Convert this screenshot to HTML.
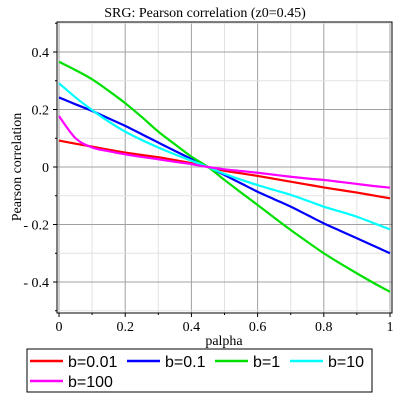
<!DOCTYPE html>
<html><head><meta charset="utf-8"><style>
body{margin:0;background:#fff;width:400px;height:400px;overflow:hidden}
text{font-family:"Liberation Serif",serif}
</style></head><body>
<svg id="chart" width="400" height="400" xmlns="http://www.w3.org/2000/svg">
<text x="205" y="17" text-anchor="middle" font-size="14">SRG: Pearson correlation (z0=0.45)</text>
<text transform="translate(21,167) rotate(-90)" text-anchor="middle" font-size="14">Pearson correlation</text>
<text x="224" y="345" text-anchor="middle" font-size="14">palpha</text>
<g id="grid"></g><g id="ticks"></g><g id="series"></g>
<rect x="57" y="22" width="335" height="291" fill="none" stroke="#000" stroke-width="1"/>
<g>
<rect x="27" y="349" width="345" height="43" fill="#fff" stroke="#000"/>
</g>
<g id="legend"></g>
</svg>
<script>
const xs=[0,0.05,0.1,0.15,0.2,0.25,0.3,0.35,0.4,0.45,0.5,0.55,0.6,0.65,0.7,0.75,0.8,0.85,0.9,0.95,1];
const labels=["b=0.01","b=0.1","b=1","b=10","b=100"];
const colors=["#ff0000","#0000ff","#00e000","#00ffff","#ff00ff"];
const sRed=[0.092,0.081,0.071,0.06,0.05,0.042,0.034,0.024,0.013,0,-0.013,-0.022,-0.031,-0.041,-0.051,-0.061,-0.071,-0.08,-0.089,-0.099,-0.109];
const sBlue=[0.242,0.218,0.195,0.169,0.143,0.114,0.085,0.056,0.028,0,-0.028,-0.057,-0.086,-0.112,-0.138,-0.167,-0.196,-0.222,-0.248,-0.274,-0.30];
const sGreen=[0.366,0.337,0.305,0.265,0.222,0.174,0.123,0.079,0.036,0,-0.045,-0.089,-0.132,-0.176,-0.219,-0.26,-0.30,-0.336,-0.37,-0.403,-0.434];
const sCyan=[0.291,0.242,0.198,0.158,0.123,0.094,0.068,0.044,0.022,0,-0.024,-0.044,-0.063,-0.08,-0.097,-0.117,-0.138,-0.155,-0.173,-0.195,-0.217];
const sMag=[0.177,0.10,0.068,0.055,0.044,0.035,0.027,0.018,0.01,0,-0.008,-0.014,-0.02,-0.027,-0.034,-0.04,-0.045,-0.052,-0.059,-0.066,-0.072];
const xTicks=[0,0.2,0.4,0.6,0.8,1];
const xTickLabels=["0","0.2","0.4","0.6","0.8","1"];
const yTicks=[-0.4,-0.2,0,0.2,0.4];
const yTickLabels=["- 0.4","- 0.2","0","0.2","0.4"];
const series=[sRed,sBlue,sGreen,sCyan,sMag];
const NS="http://www.w3.org/2000/svg";
const X=v=>59+v*331, Y=v=>167-v*287.5;
function mk(tag,attrs,parent){const e=document.createElementNS(NS,tag);for(const k in attrs)e.setAttribute(k,attrs[k]);parent.appendChild(e);return e;}
function smooth(pts){let d='M'+pts[0][0]+','+pts[0][1];
 for(let i=0;i<pts.length-1;i++){const p0=pts[Math.max(0,i-1)],p1=pts[i],p2=pts[i+1],p3=pts[Math.min(pts.length-1,i+2)];
  const c1=[p1[0]+(p2[0]-p0[0])/6,p1[1]+(p2[1]-p0[1])/6],c2=[p2[0]-(p3[0]-p1[0])/6,p2[1]-(p3[1]-p1[1])/6];
  d+=' C'+c1[0]+','+c1[1]+' '+c2[0]+','+c2[1]+' '+p2[0]+','+p2[1];}
 return d;}
const grid=document.getElementById('grid'),ticks=document.getElementById('ticks'),ser=document.getElementById('series'),leg=document.getElementById('legend');
for(let i=0;i<=10;i++){const v=i/10,maj=i%2==0;
 const l=mk('line',{x1:X(v),x2:X(v),y1:22,y2:313,stroke:maj?'#a0a0a0':'#e2e2e2','stroke-width':1},grid);
 
 
 const t=mk('line',{x1:X(v),x2:X(v),y1:313,y2:maj?317:315,stroke:'#000'},ticks);
 
 }
for(let i=-5;i<=5;i++){const v=i/10,maj=i%2==0;
 const l=mk('line',{x1:57,x2:392,y1:Y(v),y2:Y(v),stroke:maj?'#a0a0a0':'#e2e2e2','stroke-width':1},grid);
 
 
 const t=mk('line',{x1:maj?53:55,x2:57,y1:Y(v),y2:Y(v),stroke:'#000'},ticks);
 
 }
xTicks.forEach((v,i)=>{const t=mk('text',{x:X(v),y:331,'text-anchor':'middle','font-size':14},ticks);t.textContent=xTickLabels[i];
 
 });
yTicks.forEach((v,i)=>{const t=mk('text',{x:49,y:Y(v)+5,'text-anchor':'end','font-size':14},ticks);t.textContent=yTickLabels[i];
 
 });
series.forEach((s,k)=>{const p=mk('path',{d:smooth(s.map((v,i)=>[X(xs[i]),Y(v)])),fill:'none',stroke:colors[k],'stroke-width':2.2},ser);
 
 });
const lp=[[30,361],[127,361],[215,361],[290,361],[30,381]];
labels.forEach((lab,k)=>{const g=mk('g',{},leg);
 
 
 mk('line',{x1:lp[k][0],x2:lp[k][0]+33,y1:lp[k][1],y2:lp[k][1],stroke:colors[k],'stroke-width':2.5},g);
 const t=mk('text',{x:lp[k][0]+38,y:lp[k][1]+6,'font-size':16,'style':'font-family:"Liberation Sans",sans-serif'},g);t.textContent=lab;});
</script>
</body></html>
